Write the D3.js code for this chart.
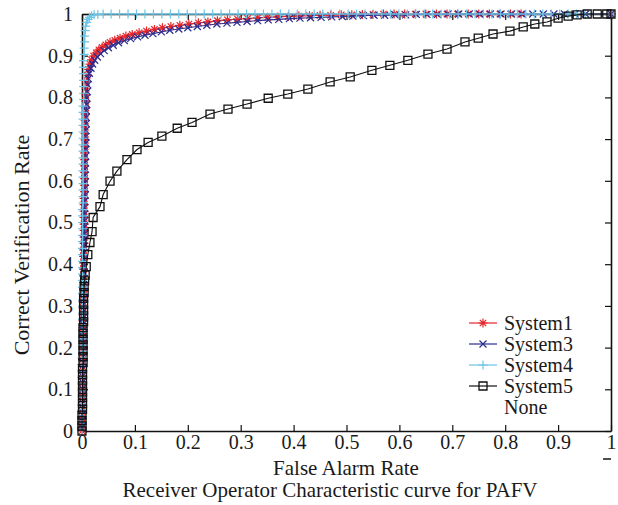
<!DOCTYPE html>
<html><head><meta charset="utf-8">
<script src="https://cdn.jsdelivr.net/npm/d3@7"></script>
<style>
body{margin:0;background:#fff}
svg text{font-family:"Liberation Serif","Times New Roman",serif;fill:#1a1a1a}
</style>
</head><body>
<svg id="chart" width="618" height="505"></svg>
<script>
// ---- data ----
const xTickValues=[0,0.1,0.2,0.3,0.4,0.5,0.6,0.7,0.8,0.9,1];
const yTickValues=[0,0.1,0.2,0.3,0.4,0.5,0.6,0.7,0.8,0.9,1];
const seriesNames=["System1","System3","System4","System5"];
const xTitle="False Alarm Rate";
const yTitle="Correct Verification Rate";
const chartTitle="Receiver Operator Characteristic curve for PAFV";

const system1=[[0.000,0.000],[0.000,0.016],[0.000,0.031],[0.000,0.047],[0.000,0.062],[0.001,0.078],[0.001,0.093],[0.001,0.109],[0.001,0.124],[0.001,0.140],[0.001,0.155],[0.001,0.171],[0.001,0.186],[0.002,0.202],[0.002,0.217],[0.002,0.233],[0.002,0.248],[0.002,0.264],[0.002,0.279],[0.002,0.295],[0.002,0.310],[0.003,0.326],[0.003,0.341],[0.003,0.357],[0.003,0.372],[0.003,0.388],[0.003,0.403],[0.003,0.419],[0.003,0.434],[0.004,0.450],[0.004,0.465],[0.004,0.481],[0.004,0.496],[0.004,0.512],[0.004,0.527],[0.004,0.543],[0.004,0.558],[0.005,0.574],[0.005,0.589],[0.005,0.605],[0.005,0.620],[0.005,0.636],[0.005,0.651],[0.005,0.667],[0.006,0.682],[0.006,0.698],[0.006,0.713],[0.006,0.729],[0.006,0.744],[0.006,0.760],[0.007,0.775],[0.007,0.791],[0.007,0.806],[0.008,0.822],[0.008,0.837],[0.010,0.853],[0.012,0.867],[0.015,0.880],[0.018,0.890],[0.022,0.899],[0.027,0.907],[0.032,0.914],[0.038,0.920],[0.045,0.926],[0.053,0.932],[0.062,0.937],[0.072,0.942],[0.083,0.947],[0.095,0.951],[0.108,0.955],[0.122,0.959],[0.137,0.963],[0.152,0.967],[0.168,0.970],[0.185,0.973],[0.202,0.976],[0.220,0.979],[0.238,0.981],[0.256,0.984],[0.275,0.986],[0.294,0.988],[0.313,0.989],[0.332,0.991],[0.351,0.992],[0.370,0.993],[0.390,0.994],[0.410,0.995],[0.430,0.996],[0.450,0.997],[0.470,0.997],[0.490,0.998],[0.510,0.998],[0.530,0.999],[0.550,0.999],[0.570,1.000],[0.590,1.000],[0.610,1.000],[0.630,1.000],[0.650,1.000],[0.670,1.000],[0.690,1.000],[0.710,1.000],[0.730,1.000],[0.750,1.000],[0.770,1.000],[0.790,1.000],[0.810,1.000],[0.830,1.000],[1.000,1.000]];

const system3=[[0.000,0.008],[0.000,0.024],[0.000,0.039],[0.001,0.055],[0.001,0.070],[0.001,0.086],[0.001,0.101],[0.001,0.117],[0.001,0.132],[0.001,0.148],[0.002,0.163],[0.002,0.179],[0.002,0.194],[0.002,0.210],[0.002,0.225],[0.002,0.241],[0.002,0.256],[0.003,0.272],[0.003,0.287],[0.003,0.303],[0.003,0.318],[0.003,0.334],[0.003,0.349],[0.003,0.365],[0.004,0.380],[0.004,0.396],[0.004,0.411],[0.004,0.427],[0.004,0.442],[0.004,0.458],[0.005,0.473],[0.005,0.489],[0.005,0.504],[0.005,0.520],[0.005,0.535],[0.005,0.551],[0.006,0.566],[0.006,0.582],[0.006,0.597],[0.006,0.613],[0.006,0.628],[0.006,0.644],[0.007,0.659],[0.007,0.675],[0.007,0.690],[0.007,0.706],[0.007,0.721],[0.008,0.737],[0.008,0.752],[0.008,0.768],[0.009,0.783],[0.009,0.799],[0.010,0.814],[0.011,0.830],[0.012,0.845],[0.014,0.858],[0.017,0.870],[0.020,0.880],[0.024,0.889],[0.029,0.897],[0.035,0.905],[0.042,0.912],[0.050,0.919],[0.059,0.925],[0.069,0.931],[0.080,0.936],[0.092,0.941],[0.105,0.945],[0.119,0.949],[0.134,0.953],[0.150,0.957],[0.166,0.961],[0.183,0.964],[0.200,0.967],[0.218,0.970],[0.236,0.973],[0.255,0.976],[0.274,0.978],[0.293,0.980],[0.312,0.982],[0.332,0.984],[0.352,0.986],[0.372,0.987],[0.392,0.989],[0.412,0.990],[0.432,0.991],[0.452,0.992],[0.472,0.993],[0.492,0.994],[0.512,0.995],[0.532,0.996],[0.552,0.997],[0.572,0.997],[0.592,0.998],[0.612,0.998],[0.632,0.999],[0.652,0.999],[0.672,0.999],[0.692,1.000],[0.712,1.000],[0.732,1.000],[0.752,1.000],[0.772,1.000],[0.792,1.000],[0.812,1.000],[0.832,1.000],[0.852,1.000],[0.872,1.000],[0.892,1.000],[0.912,1.000],[0.932,1.000],[0.952,1.000],[1.000,1.000]];

const system4=[[0.000,0.004],[0.000,0.020],[0.000,0.035],[0.000,0.051],[0.000,0.066],[0.000,0.082],[0.000,0.097],[0.000,0.113],[0.000,0.128],[0.000,0.144],[0.000,0.159],[0.000,0.175],[0.001,0.190],[0.001,0.206],[0.001,0.221],[0.001,0.237],[0.001,0.252],[0.001,0.268],[0.001,0.283],[0.001,0.299],[0.001,0.314],[0.001,0.330],[0.001,0.345],[0.001,0.361],[0.001,0.376],[0.001,0.392],[0.001,0.407],[0.001,0.423],[0.001,0.438],[0.001,0.454],[0.001,0.469],[0.001,0.485],[0.001,0.500],[0.001,0.516],[0.001,0.531],[0.002,0.547],[0.002,0.562],[0.002,0.578],[0.002,0.593],[0.002,0.609],[0.002,0.624],[0.002,0.640],[0.002,0.655],[0.002,0.671],[0.002,0.686],[0.002,0.702],[0.002,0.717],[0.002,0.733],[0.002,0.748],[0.002,0.764],[0.002,0.779],[0.003,0.795],[0.003,0.810],[0.003,0.826],[0.003,0.841],[0.003,0.857],[0.003,0.872],[0.003,0.888],[0.004,0.903],[0.004,0.918],[0.005,0.933],[0.005,0.947],[0.006,0.960],[0.007,0.971],[0.009,0.980],[0.011,0.987],[0.014,0.992],[0.018,0.996],[0.023,0.998],[0.030,0.999],[0.040,1.000],[0.055,1.000],[0.071,1.000],[0.087,1.000],[0.103,1.000],[0.119,1.000],[0.135,1.000],[0.151,1.000],[0.167,1.000],[0.183,1.000],[0.199,1.000],[0.215,1.000],[0.231,1.000],[0.247,1.000],[0.263,1.000],[0.279,1.000],[0.295,1.000],[0.311,1.000],[0.327,1.000],[0.343,1.000],[0.359,1.000],[0.375,1.000],[0.391,1.000],[0.407,1.000],[0.423,1.000],[0.439,1.000],[0.455,1.000],[0.471,1.000],[0.487,1.000],[0.503,1.000],[0.519,1.000],[0.535,1.000],[0.551,1.000],[0.567,1.000],[0.583,1.000],[0.599,1.000],[0.615,1.000],[0.631,1.000],[0.647,1.000],[0.663,1.000],[0.679,1.000],[0.695,1.000],[0.711,1.000],[0.727,1.000],[0.743,1.000],[0.759,1.000],[0.775,1.000],[0.791,1.000],[0.807,1.000],[0.823,1.000],[0.839,1.000],[0.855,1.000],[0.871,1.000],[0.887,1.000],[0.903,1.000],[0.919,1.000],[0.935,1.000],[0.951,1.000],[1.000,1.000]];

const system5=[[0.000,0.000],[0.000,0.012],[0.000,0.025],[0.000,0.038],[0.001,0.052],[0.001,0.066],[0.001,0.080],[0.001,0.094],[0.001,0.108],[0.001,0.122],[0.001,0.136],[0.001,0.150],[0.002,0.164],[0.002,0.178],[0.002,0.192],[0.002,0.206],[0.002,0.220],[0.002,0.234],[0.002,0.248],[0.003,0.262],[0.003,0.276],[0.003,0.290],[0.003,0.304],[0.003,0.318],[0.004,0.332],[0.004,0.346],[0.005,0.360],[0.006,0.374],[0.008,0.394],[0.011,0.423],[0.015,0.452],[0.019,0.478],[0.021,0.512],[0.034,0.538],[0.040,0.567],[0.053,0.599],[0.066,0.623],[0.085,0.651],[0.104,0.675],[0.125,0.692],[0.151,0.707],[0.180,0.726],[0.208,0.740],[0.242,0.760],[0.276,0.772],[0.312,0.784],[0.352,0.798],[0.389,0.808],[0.427,0.820],[0.469,0.837],[0.507,0.849],[0.548,0.865],[0.582,0.877],[0.616,0.889],[0.654,0.904],[0.690,0.916],[0.724,0.933],[0.749,0.942],[0.777,0.952],[0.809,0.959],[0.834,0.969],[0.856,0.976],[0.879,0.981],[0.900,0.990],[0.919,0.995],[0.936,0.998],[0.955,1.000],[0.974,1.000],[0.992,1.000],[1.000,1.000]];

// ---- drawing ----
const svg=d3.select("#chart");
const x=d3.scaleLinear().domain([0,1]).range([82,611]);
const y=d3.scaleLinear().domain([0,1]).range([431,14]);
const fmt=d=>d===0?"0":d===1?"1":d3.format(".1f")(d);

const axisG=svg.append("g").attr("class","axes");
function styleAxis(g){
  g.selectAll(".domain").attr("stroke","#111").attr("stroke-width",1.6);
  g.selectAll(".tick line").attr("stroke","#111").attr("stroke-width",1.2);
  g.selectAll(".tick text").attr("font-family","Liberation Serif, serif").attr("font-size",20).attr("fill","#1a1a1a");
}
axisG.append("g").attr("transform","translate(0,431)")
  .call(d3.axisBottom(x).tickValues(xTickValues).tickFormat(fmt).tickSizeInner(-6).tickSizeOuter(0).tickPadding(4))
  .call(styleAxis);
axisG.append("g").attr("transform","translate(82,0)")
  .call(d3.axisLeft(y).tickValues(yTickValues).tickFormat(fmt).tickSizeInner(-6).tickSizeOuter(0).tickPadding(9))
  .call(styleAxis);
axisG.append("g").attr("transform","translate(0,14)")
  .call(d3.axisTop(x).tickValues(xTickValues).tickFormat("").tickSizeInner(-6).tickSizeOuter(0))
  .call(styleAxis);
axisG.append("g").attr("transform","translate(611,0)")
  .call(d3.axisRight(y).tickValues(yTickValues).tickFormat("").tickSizeInner(-6).tickSizeOuter(0))
  .call(styleAxis);
// small stray dash under last x label
svg.append("line").attr("x1",603).attr("x2",611).attr("y1",459).attr("y2",459).attr("stroke","#222").attr("stroke-width",1.6);

const markers={
  star:"M-4.5,0H4.5M0,-4.5V4.5M-3.2,-3.2L3.2,3.2M-3.2,3.2L3.2,-3.2",
  cross:"M-3.5,-3.5L3.5,3.5M-3.5,3.5L3.5,-3.5",
  plus:"M-4.5,0H4.5M0,-4.5V4.5",
  square:"M-4,-4H4V4H-4Z"
};
const styles=[
  {data:system1,color:"#e4252a",marker:"star",sw:1.2},
  {data:system3,color:"#2b2d8e",marker:"cross",sw:1.2},
  {data:system4,color:"#6cc4e6",marker:"plus",sw:1.2},
  {data:system5,color:"#111111",marker:"square",sw:1.3}
];
const line=d3.line().x(d=>x(d[0])).y(d=>y(d[1]));
const dataG=svg.append("g");
styles.forEach(s=>{
  const g=dataG.append("g");
  g.append("path").attr("d",line(s.data)).attr("fill","none").attr("stroke",s.color).attr("stroke-width",1.1);
  g.selectAll("path.m").data(s.data).join("path").attr("class","m")
    .attr("transform",d=>`translate(${x(d[0])},${y(d[1])})`)
    .attr("d",markers[s.marker]).attr("fill","none").attr("stroke",s.color).attr("stroke-width",s.sw);
});

// legend
const legG=svg.append("g");
const legendRows=seriesNames.concat(["None"]);
legendRows.forEach((name,i)=>{
  const yy=323+i*21;
  if(i<styles.length){
    const s=styles[i];
    legG.append("line").attr("x1",469).attr("x2",497).attr("y1",yy).attr("y2",yy).attr("stroke",s.color).attr("stroke-width",1.2);
    legG.append("path").attr("transform",`translate(483,${yy})`).attr("d",markers[s.marker]).attr("fill","none").attr("stroke",s.color).attr("stroke-width",s.sw);
  }
  legG.append("text").attr("x",504).attr("y",yy+7).attr("font-size",20).text(name);
});

// titles
svg.append("text").attr("x",346).attr("y",475).attr("text-anchor","middle").attr("font-size",21).text(xTitle);
svg.append("text").attr("x",330).attr("y",497).attr("text-anchor","middle").attr("font-size",21).text(chartTitle);
svg.append("text").attr("transform","translate(29,245) rotate(-90)").attr("text-anchor","middle").attr("font-size",22).text(yTitle);
</script>
</body></html>
